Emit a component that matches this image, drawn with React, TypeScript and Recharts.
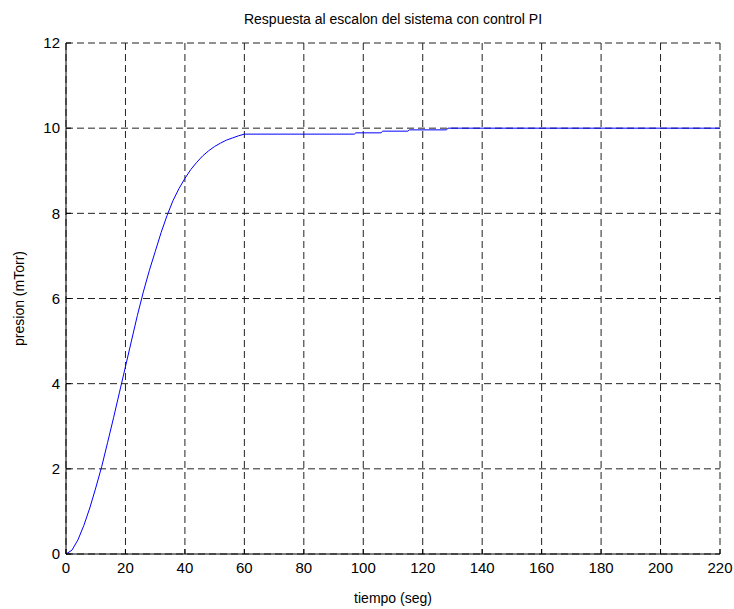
import React from 'react'
import { LineChart, Line, XAxis, YAxis, CartesianGrid, Label } from 'recharts'

// step response samples: tiempo (seg) vs presion (mTorr)
const tiempo = [
  0, 2, 4, 6, 8, 10, 12, 14, 16, 18, 20, 22, 24, 26, 28, 30, 32, 34, 36, 38, 40,
  42, 44, 46, 48, 50, 52, 54, 56, 58, 60, 97, 97.5, 106, 106.5, 115, 115.5, 128, 128.5, 220,
]
const presion = [
  0, 0.09, 0.33, 0.67, 1.08, 1.55, 2.05, 2.62, 3.2, 3.8, 4.4, 5.0, 5.6, 6.15, 6.65, 7.1, 7.55, 7.95, 8.3, 8.58, 8.82,
  9.03, 9.2, 9.35, 9.47, 9.57, 9.65, 9.72, 9.77, 9.82, 9.86, 9.86, 9.89, 9.89, 9.93, 9.93, 9.96, 9.96, 10, 10,
]

const xTicks = [0, 20, 40, 60, 80, 100, 120, 140, 160, 180, 200, 220]
const yTicks = [0, 2, 4, 6, 8, 10, 12]

const data = tiempo.map((t, i) => ({ t, p: presion[i] }))

const FONT = '"Liberation Sans", Arial, sans-serif'
const tickStyle = { fontSize: 15, fill: '#000', fontFamily: FONT }
const labelStyle = { fontSize: 14, fill: '#000', fontFamily: FONT, textAnchor: 'middle' as const }
const axisLine = { stroke: '#000', strokeWidth: 1 }

export default function App() {
  return (
    <div style={{ position: 'absolute', left: 0, top: 0, width: 734, height: 609, background: '#fff' }}>
      <div
        style={{
          position: 'absolute',
          top: 11,
          left: 0,
          width: 786,
          textAlign: 'center',
          fontFamily: FONT,
          fontSize: 14,
          color: '#000',
        }}
      >
        Respuesta al escalon del sistema con control PI
      </div>
      <LineChart width={734} height={609} data={data} margin={{ top: 43, right: 14, bottom: 25, left: 36 }}>
        <CartesianGrid xAxisId="b" yAxisId="l" stroke="#222" strokeDasharray="7 4" strokeWidth={1} />
        <XAxis
          xAxisId="b"
          dataKey="t"
          type="number"
          domain={[0, 220]}
          ticks={xTicks}
          interval={0}
          height={30}
          axisLine={axisLine}
          tickLine={{ stroke: '#000' }}
          tickSize={-5}
          tickMargin={13}
          tick={tickStyle}
        >
          <Label value="tiempo (seg)" position="insideBottom" offset={-19} style={labelStyle} />
        </XAxis>
        <XAxis
          xAxisId="t"
          orientation="top"
          dataKey="t"
          type="number"
          domain={[0, 220]}
          ticks={xTicks}
          interval={0}
          height={0}
          axisLine={axisLine}
          tickLine={{ stroke: '#000' }}
          tickSize={-5}
          tickFormatter={() => ''}
        />
        <YAxis
          yAxisId="l"
          type="number"
          domain={[0, 12]}
          ticks={yTicks}
          interval={0}
          width={30}
          axisLine={axisLine}
          tickLine={{ stroke: '#000' }}
          tickSize={-5}
          tickMargin={11}
          tick={tickStyle}
        >
          <Label value="presion (mTorr)" angle={-90} position="insideLeft" offset={-17} style={labelStyle} />
        </YAxis>
        <YAxis
          yAxisId="r"
          orientation="right"
          type="number"
          domain={[0, 12]}
          ticks={yTicks}
          interval={0}
          width={0}
          axisLine={axisLine}
          tickLine={{ stroke: '#000' }}
          tickSize={-5}
          tickFormatter={() => ''}
        />
        <Line
          xAxisId="b"
          yAxisId="l"
          dataKey="p"
          type="linear"
          stroke="#0000ff"
          strokeWidth={1}
          dot={false}
          isAnimationActive={false}
        />
      </LineChart>
    </div>
  )
}
